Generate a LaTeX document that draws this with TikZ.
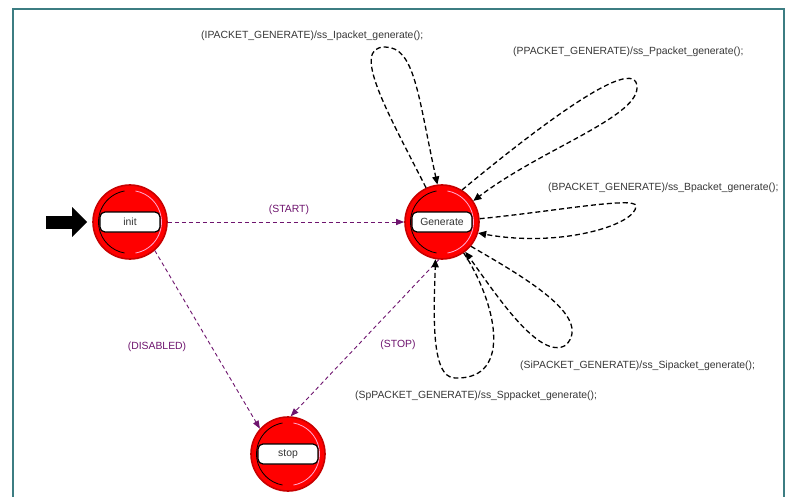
\documentclass[tikz,border=0pt]{standalone}
\usepackage{fontspec}
\setmainfont{Liberation Sans}
\usetikzlibrary{arrows.meta}
\definecolor{frameteal}{RGB}{60,125,130}
\definecolor{trpurple}{RGB}{110,20,110}
\definecolor{lbltext}{RGB}{55,55,55}
\definecolor{stred}{RGB}{255,0,0}
\definecolor{stredge}{RGB}{200,0,0}
\definecolor{stpink}{RGB}{255,170,210}
\begin{document}
\begin{tikzpicture}[x=1pt,y=1pt,
  lblfont/.style={font=\fontsize{10.4}{12}\selectfont},
  state/.style={circle, fill=stred, draw=stredge, line width=1.6pt, minimum size=74pt, inner sep=0pt},
  statelabel/.style={rectangle, rounded corners=5pt, fill=white, draw=black, line width=1.2pt,
    minimum width=60pt, minimum height=20pt, inner sep=0pt, lblfont, text=black!80},
  trans/.style={draw=trpurple, dash pattern=on 4pt off 3pt, line width=0.9pt,
    -{Triangle[length=8pt,width=6pt]}},
  selfloop/.style={draw=black, dash pattern=on 5pt off 3pt, line width=1.3pt,
    -{Triangle[length=8pt,width=7pt]}},
  trlabel/.style={text=trpurple, lblfont, inner sep=0pt},
  actlabel/.style={text=lbltext, lblfont, anchor=west, inner sep=0pt}]
\useasboundingbox (0,0) rectangle (786,496);
\fill[white] (0,0) rectangle (786,496);
% frame
\draw[frameteal, line width=2.2pt] (13,-10) -- (13,487) -- (784,487) -- (784,-10);

% states
\node[state] (init) at (130,274) {};
\node[state] (gen)  at (442,274) {};
\node[state] (stop) at (288,42) {};
\foreach \n in {init,gen,stop}{
  \draw[black, line width=0.8pt] ([shift={(100:31.5)}]\n.center) arc[start angle=100, end angle=260, radius=31.5];
  \draw[stpink, line width=0.8pt] ([shift={(-80:31.5)}]\n.center) arc[start angle=-80, end angle=80, radius=31.5];
}
\node[statelabel] (initlbl) at (init.center) {init};
\node[statelabel] (genlbl)  at (gen.center)  {Generate};
\node[statelabel] (stoplbl) at (stop.center) {stop};

% initial arrow
\coordinate (entry) at (46,274);
\draw[line width=13pt, -{Triangle[length=15pt,width=29pt]}, shorten >=5pt] (entry) -- (init.west);

% transitions
\draw[trans] (init.east) -- (gen.west);
\draw[trans] (init.-49) -- (stop.138);
\draw[trans] (gen.-95) -- (stop.86);
\node[trlabel] (lstart) at (289,286) {(START)};
\node[trlabel] (ldis) at (157,149) {(DISABLED)};
\node[trlabel] (lstop) at (398,151) {(STOP)};

% self loops
\draw[selfloop] (gen.115) .. controls (388,383) and (350,449) .. (385,449)
                .. controls (415,449) and (418,400) .. (gen.97);
\draw[selfloop] (gen.58) .. controls (520,354) and (638,448) .. (637,408)
                .. controls (636,378) and (540,346) .. (gen.34);
\draw[selfloop] (gen.5) .. controls (550,284) and (636,300) .. (636,290)
                .. controls (636,271) and (560,248) .. (gen.-17);
\draw[selfloop] (gen.-40) .. controls (520,221) and (594,180) .. (566,151)
                .. controls (540,134) and (495,203) .. (gen.-52);
\draw[selfloop] (gen.-55) .. controls (495,196) and (515,116) .. (455,118)
                .. controls (430,118) and (434,186) .. (gen.-100);

\node[actlabel] (li) at (201,460) {(IPACKET\_GENERATE)/ss\_Ipacket\_generate();};
\node[actlabel] (lp) at (513,444) {(PPACKET\_GENERATE)/ss\_Ppacket\_generate();};
\node[actlabel] (lb) at (548,308) {(BPACKET\_GENERATE)/ss\_Bpacket\_generate();};
\node[actlabel] (lsi) at (520,130) {(SiPACKET\_GENERATE)/ss\_Sipacket\_generate();};
\node[actlabel] (lsp) at (355,100) {(SpPACKET\_GENERATE)/ss\_Sppacket\_generate();};
\end{tikzpicture}
\end{document}
